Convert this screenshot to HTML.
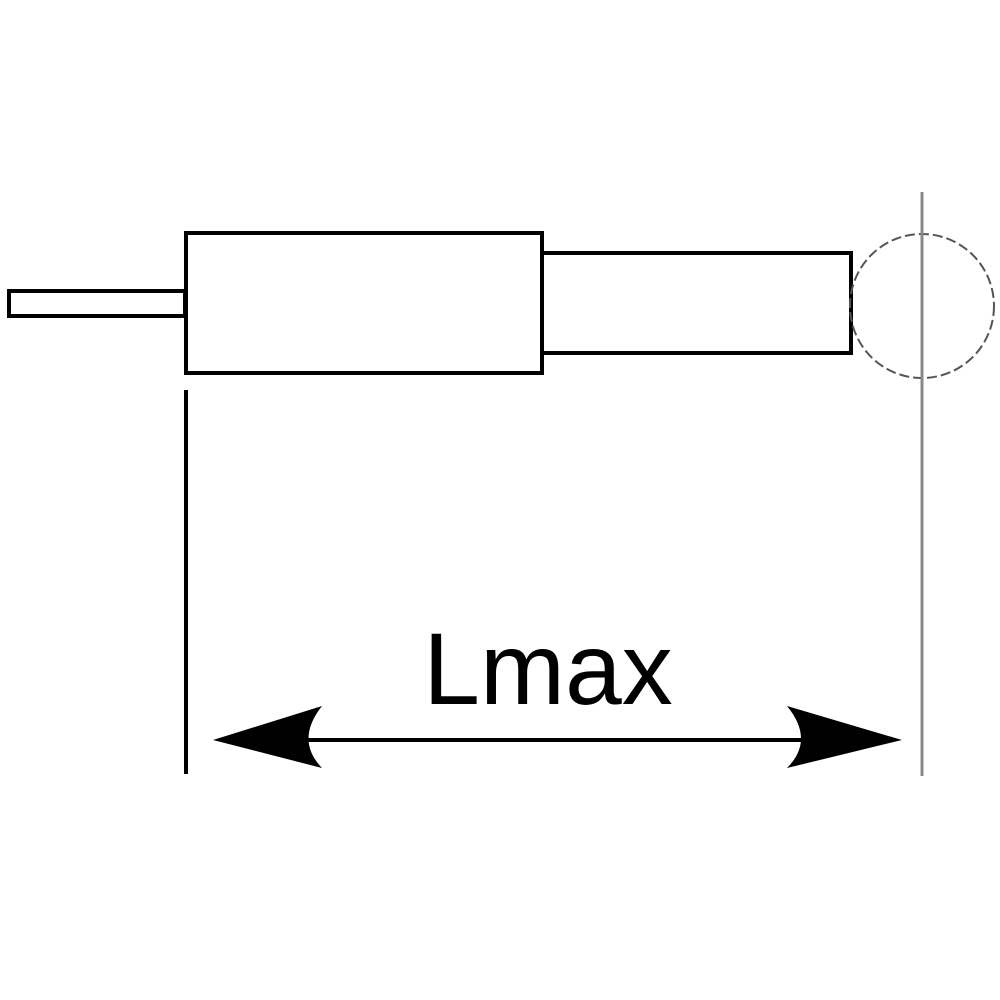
<!DOCTYPE html>
<html><head><style>html,body{margin:0;padding:0;background:#fff;}svg{display:block}</style></head>
<body>
<svg width="1000" height="1000" viewBox="0 0 1000 1000" xmlns="http://www.w3.org/2000/svg">
<rect x="0" y="0" width="1000" height="1000" fill="#fff"/>
<rect x="9" y="291" width="176" height="25" fill="none" stroke="#000" stroke-width="4"/>
<rect x="186" y="233" width="356" height="140" fill="none" stroke="#000" stroke-width="4"/>
<rect x="542" y="253" width="309" height="100" fill="none" stroke="#000" stroke-width="4"/>
<circle cx="922" cy="306" r="72" fill="none" stroke="#555" stroke-width="2" stroke-dasharray="10,4"/>
<line x1="922" y1="192" x2="922" y2="776" stroke="#888" stroke-width="3"/>
<line x1="186" y1="390" x2="186" y2="774" stroke="#000" stroke-width="4"/>
<line x1="230" y1="740" x2="890" y2="740" stroke="#000" stroke-width="4"/>
<path d="M213,740 L322,706 Q295,740 322,768 Z" fill="#000"/>
<path d="M902,740 L787,706 Q815,740 787,768 Z" fill="#000"/>
<text x="548" y="704" text-anchor="middle" font-family="Liberation Sans, sans-serif" font-size="102" fill="#000">Lmax</text>
</svg>
</body></html>
